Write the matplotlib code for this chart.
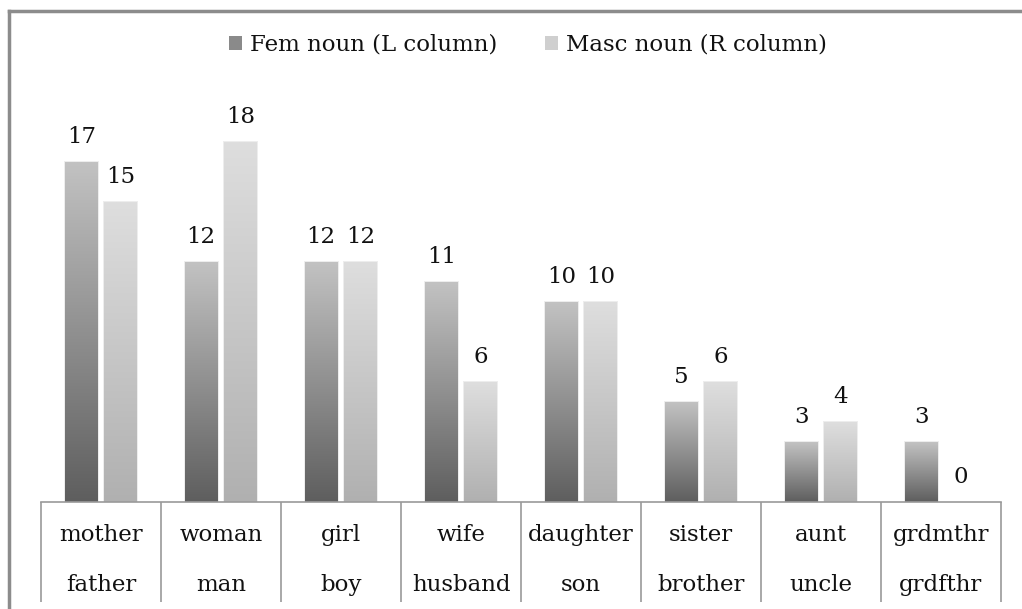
import matplotlib
matplotlib.use("Agg")
import matplotlib.pyplot as plt
from matplotlib.lines import Line2D
from matplotlib.patches import Patch
import numpy as np

fem_words = ["mother", "woman", "girl", "wife", "daughter", "sister", "aunt", "grdmthr"]
masc_words = ["father", "man", "boy", "husband", "son", "brother", "uncle", "grdfthr"]
fem_vals = [17, 12, 12, 11, 10, 5, 3, 3]
masc_vals = [15, 18, 12, 6, 10, 6, 4, 0]
series_names = ["Fem noun (L column)", "Masc noun (R column)"]

plt.rcParams['font.family'] = ['DejaVu Serif']

W, H = 1022, 609
fig = plt.figure(figsize=(W / 100, H / 100), dpi=100)
base_px = 502
top_px = 90
px_per_unit = 20.0
ax = fig.add_axes([41 / W, (H - base_px) / H, (1001 - 41) / W, (base_px - top_px) / H])

x = np.arange(len(fem_words)) + 0.5
bw = 0.272
off = 0.165
fs = 16.5

# gradient colormaps (dark bottom -> light top)
fem_cmap = matplotlib.colors.LinearSegmentedColormap.from_list("fem", ["#5e5e5e", "#c2c2c2"])
masc_cmap = matplotlib.colors.LinearSegmentedColormap.from_list("masc", ["#b0b0b0", "#dedede"])
grad = np.linspace(0, 1, 256).reshape(-1, 1)

bars_f = ax.bar(x - off, fem_vals, bw, facecolor="none", edgecolor="none")
bars_m = ax.bar(x + off, masc_vals, bw, facecolor="none", edgecolor="none")

for bars, cmap in [(bars_f, fem_cmap), (bars_m, masc_cmap)]:
    for p in bars:
        h = p.get_height()
        if h <= 0:
            continue
        x0 = p.get_x()
        # soft shadow
        ax.bar(x0 + bw / 2, h + 0.05, bw + 0.02, color="#ededed", zorder=1)
        im = ax.imshow(grad, extent=(x0, x0 + bw, 0, h), origin="lower",
                       cmap=cmap, aspect="auto", zorder=2)
        im.set_clip_path(p)

for bars, vals in [(bars_f, fem_vals), (bars_m, masc_vals)]:
    for p, v in zip(bars, vals):
        ax.annotate(str(v), (p.get_x() + bw / 2, v), xytext=(0, 18),
                    textcoords="offset points", ha="center", va="center",
                    fontsize=fs, color="#111111")

ax.set_xlim(0, len(fem_words))
ax.set_ylim(0, (base_px - top_px) / px_per_unit)
for s in ["top", "right", "left"]:
    ax.spines[s].set_visible(False)
ax.spines["bottom"].set_color("#9a9a9a")
ax.spines["bottom"].set_linewidth(1.2)
ax.set_xticks([])
ax.set_yticks([])

# category label table below the axis
low = -(602 - base_px) / px_per_unit
ax.vlines(np.arange(len(fem_words) + 1), low, 0, color="#9a9a9a", lw=1.2, clip_on=False)
for xi, fw, mw in zip(x, fem_words, masc_words):
    ax.text(xi, -(535 - base_px) / px_per_unit, fw, ha="center", va="center",
            fontsize=fs, color="#111111")
    ax.text(xi, -(585 - base_px) / px_per_unit, mw, ha="center", va="center",
            fontsize=fs, color="#111111")

handles = [Patch(facecolor="#8a8a8a", edgecolor="none"), Patch(facecolor="#cfcfcf", edgecolor="none")]
fig.legend(handles, series_names, loc="center", bbox_to_anchor=(528 / W, 1 - 45 / H),
           ncol=2, frameon=False, fontsize=fs, handlelength=0.55, handleheight=0.55,
           handletextpad=0.35, columnspacing=2.1, labelcolor="#111111")

# outer frame (left and top edges)
fig.add_artist(Line2D([9 / W, 9 / W], [0, 1 - 11 / H], color="#8c8c8c", lw=2.5))
fig.add_artist(Line2D([9 / W, 1], [1 - 11 / H, 1 - 11 / H], color="#8c8c8c", lw=2.5))

fig.savefig("out.png", dpi=100, facecolor="white")
